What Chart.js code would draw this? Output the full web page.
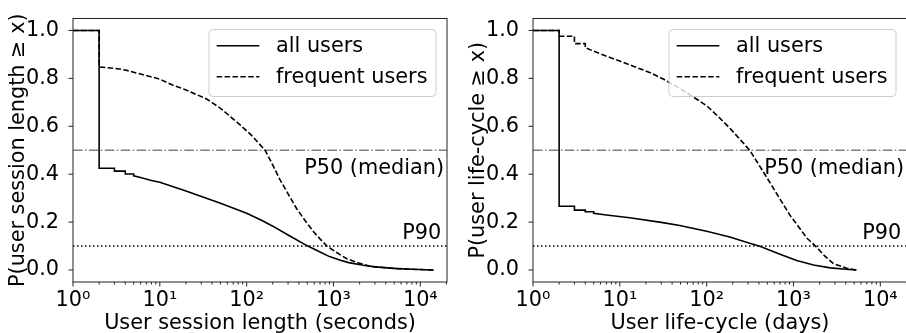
<!DOCTYPE html>
<html>
<head>
<meta charset="utf-8">
<title>User session length and life-cycle</title>
<script src="https://cdn.jsdelivr.net/npm/chart.js@4.4.1/dist/chart.umd.min.js"></script>
<style>
  html, body { margin: 0; padding: 0; background: #fff; overflow: hidden; }
  #wrap { position: relative; width: 906px; height: 333px; overflow: hidden; }
  .panel { position: absolute; top: 0; }
</style>
</head>
<body>
<div id="wrap">
  <canvas id="sessionChart" class="panel" width="460" height="333" style="left:0"></canvas>
  <canvas id="lifecycleChart" class="panel" width="460" height="333" style="left:460px"></canvas>
</div>
<script>
// axes
const X_RANGE = [1, 20300];
const Y_RANGE = [-0.05, 1.05];
const xMajorTicks = [1, 10, 100, 1000, 10000];
const yTicks = [0, 0.2, 0.4, 0.6, 0.8, 1.0];
const seriesLabels = ['all users', 'frequent users'];

// percentile guide lines
const refLevels = [0.5, 0.1];
const refLabels = ['P50 (median)', 'P90'];
const refLabelX = [460, 6200];
const refLabelY = [0.4, 0.13];

// session length (seconds), complementary CDF
const sessionAllX = [1, 2, 2, 3, 3, 4, 4, 5, 5, 6, 8, 10, 20, 50, 100, 150, 200, 300, 500, 700, 900, 1200, 1500, 2200, 3000, 5000, 8000, 14200];
const sessionAllY = [1.0, 1.0, 0.425, 0.425, 0.413, 0.413, 0.401, 0.401, 0.393, 0.386, 0.374, 0.366, 0.330, 0.279, 0.237, 0.207, 0.183, 0.146, 0.101, 0.075, 0.056, 0.041, 0.031, 0.020, 0.013, 0.007, 0.003, 0.0];
const sessionFreqX = [1, 2, 2, 3, 4, 6, 10, 14, 20, 35, 50, 84, 114, 163, 200, 242, 300, 377, 470, 586, 700, 835, 1100, 1422, 2000, 2640, 5370, 14200];
const sessionFreqY = [1.0, 1.0, 0.848, 0.842, 0.835, 0.818, 0.797, 0.772, 0.752, 0.713, 0.675, 0.606, 0.562, 0.500, 0.438, 0.377, 0.318, 0.256, 0.207, 0.161, 0.130, 0.101, 0.072, 0.047, 0.028, 0.016, 0.005, 0.0];

// user life-cycle (days), complementary CDF
const lifeAllX = [1, 2, 2, 3, 3, 4, 4, 5, 5, 7, 13, 30, 49, 100, 185, 300, 410, 700, 1090, 1700, 2650, 4000, 5300];
const lifeAllY = [1.0, 1.0, 0.266, 0.266, 0.250, 0.250, 0.243, 0.243, 0.237, 0.230, 0.218, 0.199, 0.186, 0.162, 0.138, 0.114, 0.099, 0.066, 0.040, 0.021, 0.009, 0.003, 0.0];
const lifeFreqX = [1, 2, 2, 3, 3, 4, 4, 6, 10, 14, 22, 32, 50, 77, 100, 140, 185, 250, 316, 420, 540, 700, 910, 1150, 1420, 1860, 2300, 2880, 4120, 5300];
const lifeFreqY = [1.0, 1.0, 0.976, 0.976, 0.945, 0.945, 0.928, 0.902, 0.872, 0.852, 0.825, 0.796, 0.756, 0.713, 0.686, 0.636, 0.592, 0.540, 0.498, 0.427, 0.363, 0.296, 0.229, 0.180, 0.134, 0.094, 0.058, 0.027, 0.007, 0.0];

const FONT_SIZE = 20.8;
const FONT = "'DejaVu Sans', sans-serif";
Chart.defaults.font.family = FONT;
Chart.defaults.font.size = FONT_SIZE;
Chart.defaults.color = '#000';

const SUP = ['\u2070', '\u00B9', '\u00B2', '\u00B3', '\u2074'];

// minor ticks at 2..9 of each decade
const xMinorTicks = [];
xMajorTicks.forEach(m => {
  for (let k = 2; k <= 9; k++) {
    if (m * k <= X_RANGE[1]) xMinorTicks.push(m * k);
  }
});

function points(xs, ys) {
  return xs.map((x, i) => ({ x: x, y: ys[i] }));
}

// frame, tick marks, percentile labels and legend box
const panelDecor = {
  id: 'panelDecor',
  afterDraw(chart) {
    const { ctx, chartArea: a, scales: { x, y } } = chart;
    ctx.save();

    ctx.fillStyle = '#000';
    ctx.font = FONT_SIZE + 'px ' + FONT;
    ctx.textAlign = 'left';
    ctx.textBaseline = 'alphabetic';
    refLabels.forEach((t, i) => {
      ctx.fillText(t, x.getPixelForValue(refLabelX[i]), y.getPixelForValue(refLabelY[i]));
    });

    // legend
    const textW = Math.max(...seriesLabels.map(t => ctx.measureText(t).width));
    const boxW = 67 + textW + 8.5;
    const boxH = 67;
    const bx = a.right - 11 - boxW;
    const by = a.top + 11;
    ctx.beginPath();
    ctx.roundRect(bx, by, boxW, boxH, 4);
    ctx.fillStyle = 'rgba(255,255,255,0.8)';
    ctx.fill();
    ctx.strokeStyle = '#cccccc';
    ctx.lineWidth = 1;
    ctx.stroke();
    seriesLabels.forEach((t, i) => {
      const ds = chart.data.datasets[i];
      const ry = by + 16.3 + i * 31;
      ctx.beginPath();
      ctx.setLineDash(ds.borderDash || []);
      ctx.strokeStyle = ds.borderColor;
      ctx.lineWidth = ds.borderWidth;
      ctx.moveTo(bx + 7.7, ry);
      ctx.lineTo(bx + 7.7 + 42.7, ry);
      ctx.stroke();
      ctx.setLineDash([]);
      ctx.fillStyle = '#000';
      ctx.textBaseline = 'middle';
      ctx.fillText(t, bx + 67, ry + 0.5);
    });

    // axes frame
    ctx.strokeStyle = '#222';
    ctx.lineWidth = 1;
    ctx.strokeRect(a.left, a.top, a.right - a.left, a.bottom - a.top);

    // tick marks
    ctx.beginPath();
    xMajorTicks.concat(xMinorTicks).forEach(v => {
      const len = xMajorTicks.includes(v) ? 4.5 : 2.5;
      const px = x.getPixelForValue(v);
      ctx.moveTo(px, a.bottom);
      ctx.lineTo(px, a.bottom + len);
    });
    yTicks.forEach(v => {
      const py = y.getPixelForValue(v);
      ctx.moveTo(a.left - 4.5, py);
      ctx.lineTo(a.left, py);
    });
    ctx.stroke();
    ctx.restore();
  }
};

function makePanel(canvasId, xTitle, yTitle, allX, allY, freqX, freqY) {
  const refStyles = [
    { color: '#808080', dash: [9.6, 2.4, 1.5, 2.4] },
    { color: '#000000', dash: [1.5, 2.5] }
  ];
  const refSets = refLevels.map((lvl, i) => ({
    label: refLabels[i],
    data: [{ x: X_RANGE[0], y: lvl }, { x: X_RANGE[1], y: lvl }],
    borderColor: refStyles[i].color,
    borderDash: refStyles[i].dash,
    borderWidth: 1.5
  }));

  return new Chart(document.getElementById(canvasId), {
    type: 'line',
    data: {
      datasets: [
        { label: seriesLabels[0], data: points(allX, allY), borderColor: '#000', borderWidth: 1.6 },
        { label: seriesLabels[1], data: points(freqX, freqY), borderColor: '#000', borderWidth: 1.6, borderDash: [5.5, 2.4] }
      ].concat(refSets)
    },
    options: {
      responsive: false,
      animation: false,
      events: [],
      layout: { padding: { top: 10, right: 13, left: 0, bottom: 0 } },
      elements: {
        point: { radius: 0 },
        line: { tension: 0, borderCapStyle: 'butt', fill: false }
      },
      plugins: { legend: { display: false }, tooltip: { enabled: false } },
      scales: {
        x: {
          type: 'logarithmic',
          min: X_RANGE[0],
          max: X_RANGE[1],
          grid: { display: false },
          border: { display: false },
          afterFit: s => { s.height = 51; },
          afterBuildTicks: s => {
            s.ticks = xMajorTicks.concat(xMinorTicks).sort((p, q) => p - q).map(v => ({ value: v }));
          },
          ticks: {
            autoSkip: false,
            maxRotation: 0,
            minRotation: 0,
            padding: 0,
            font: { size: FONT_SIZE, lineHeight: 1 },
            callback: v => {
              const i = xMajorTicks.indexOf(v);
              return i >= 0 ? '10' + SUP[i] : '';
            }
          },
          title: {
            display: true,
            text: xTitle,
            font: { size: FONT_SIZE },
            padding: { top: 0, bottom: -3 }
          }
        },
        y: {
          min: Y_RANGE[0],
          max: Y_RANGE[1],
          grid: { display: false },
          border: { display: false },
          afterFit: s => { s.width = 73; },
          afterBuildTicks: s => { s.ticks = yTicks.map(v => ({ value: v })); },
          ticks: { padding: 6, callback: v => v.toFixed(1) },
          title: {
            display: true,
            text: yTitle,
            font: { size: FONT_SIZE },
            padding: { top: 6.5, bottom: 0 }
          }
        }
      }
    },
    plugins: [panelDecor]
  });
}

makePanel('sessionChart', 'User session length (seconds)', 'P(user session length \u2265 x)',
  sessionAllX, sessionAllY, sessionFreqX, sessionFreqY);
makePanel('lifecycleChart', 'User life-cycle (days)', 'P(user life-cycle \u2265 x)',
  lifeAllX, lifeAllY, lifeFreqX, lifeFreqY);
</script>
</body>
</html>
